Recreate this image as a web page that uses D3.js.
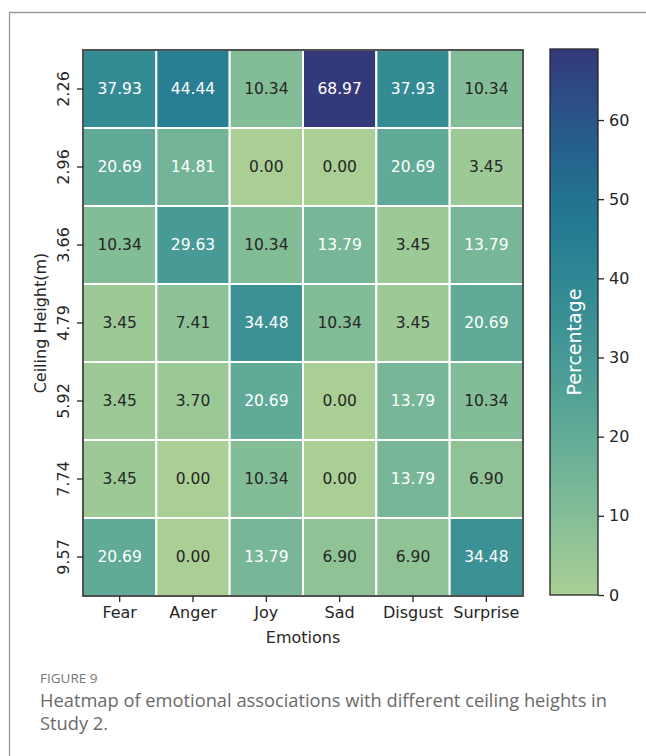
<!DOCTYPE html>
<html>
<head>
<meta charset="utf-8">
<script src="https://cdn.jsdelivr.net/npm/d3@7"></script>
<style>
  html, body { margin: 0; padding: 0; background: #fff; }
  svg { display: block; }
</style>
</head>
<body>
<svg id="chart" width="646" height="756"></svg>
<script>
// Emotion categories (columns) and ceiling heights (rows)
const emotions = ["Fear", "Anger", "Joy", "Sad", "Disgust", "Surprise"];
const heights = ["2.26", "2.96", "3.66", "4.79", "5.92", "7.74", "9.57"];

// Percentage of participants per ceiling height, one array per row
const row226 = [37.93, 44.44, 10.34, 68.97, 37.93, 10.34];
const row296 = [20.69, 14.81, 0.00, 0.00, 20.69, 3.45];
const row366 = [10.34, 29.63, 10.34, 13.79, 3.45, 13.79];
const row479 = [3.45, 7.41, 34.48, 10.34, 3.45, 20.69];
const row592 = [3.45, 3.70, 20.69, 0.00, 13.79, 10.34];
const row774 = [3.45, 0.00, 10.34, 0.00, 13.79, 6.90];
const row957 = [20.69, 0.00, 13.79, 6.90, 6.90, 34.48];
const values = [row226, row296, row366, row479, row592, row774, row957];

const colorbarTicks = [0, 10, 20, 30, 40, 50, 60];

const svg = d3.select("#chart");
const FONT = "DejaVu Sans, sans-serif";

// Outer figure frame (top and left edges visible)
svg.append("path")
  .attr("d", "M9.5,756 L9.5,12.5 L646,12.5")
  .attr("fill", "none").attr("stroke", "#9a9a9a").attr("stroke-width", 1.3);

// Crest-like sequential palette
const crestStops = ["#a9cf95", "#84be97", "#62ab97", "#479a96", "#318894", "#1f7592", "#28598a", "#34397a"];
const crest = d3.interpolateRgbBasis(crestStops);

const vmin = 0;
const vmax = d3.max(values.flat());
const color = d3.scaleSequential(crest).domain([vmin, vmax]);

// Layout of the heatmap
const hm = { left: 83, top: 50, right: 523, bottom: 596 };
const x = d3.scaleBand().domain(emotions).range([hm.left, hm.right]);
const y = d3.scaleBand().domain(heights).range([hm.top, hm.bottom]);

// Cells
const cells = [];
heights.forEach((h, i) => emotions.forEach((e, j) => cells.push({ h, e, v: values[i][j] })));

function luminance(c) {
  const rgb = d3.rgb(c);
  const lin = v => { v /= 255; return v <= 0.03928 ? v / 12.92 : Math.pow((v + 0.055) / 1.055, 2.4); };
  return 0.2126 * lin(rgb.r) + 0.7152 * lin(rgb.g) + 0.0722 * lin(rgb.b);
}

const g = svg.append("g");
g.selectAll("rect.cell").data(cells).join("rect")
  .attr("class", "cell")
  .attr("x", d => x(d.e))
  .attr("y", d => y(d.h))
  .attr("width", x.bandwidth())
  .attr("height", y.bandwidth())
  .attr("fill", d => color(d.v))
  .attr("stroke", "#ffffff")
  .attr("stroke-width", 2);

g.selectAll("text.ann").data(cells).join("text")
  .attr("class", "ann")
  .attr("x", d => x(d.e) + x.bandwidth() / 2)
  .attr("y", d => y(d.h) + y.bandwidth() / 2)
  .attr("text-anchor", "middle")
  .attr("dominant-baseline", "central")
  .attr("font-family", FONT)
  .attr("font-size", "15.5px")
  .attr("fill", d => luminance(color(d.v)) < 0.408 ? "#ffffff" : "#262626")
  .text(d => d.v.toFixed(2));

// Heatmap border
svg.append("rect")
  .attr("x", hm.left).attr("y", hm.top)
  .attr("width", hm.right - hm.left).attr("height", hm.bottom - hm.top)
  .attr("fill", "none").attr("stroke", "#262626").attr("stroke-width", 1.6);

// X axis
const xAxis = svg.append("g")
  .attr("transform", `translate(0,${hm.bottom})`)
  .call(d3.axisBottom(x).tickSize(6).tickPadding(5));
xAxis.select(".domain").remove();
xAxis.selectAll("line").attr("stroke", "#262626").attr("stroke-width", 1.3);
xAxis.selectAll("text").attr("font-family", FONT).attr("font-size", "16px").attr("fill", "#262626");

// Y axis with rotated tick labels
const yAxis = svg.append("g")
  .attr("transform", `translate(${hm.left},0)`)
  .call(d3.axisLeft(y).tickSize(6).tickPadding(5));
yAxis.select(".domain").remove();
yAxis.selectAll("line").attr("stroke", "#262626").attr("stroke-width", 1.3);
yAxis.selectAll("text")
  .attr("font-family", FONT).attr("font-size", "16px").attr("fill", "#262626")
  .attr("x", null).attr("dy", null)
  .attr("text-anchor", "middle")
  .attr("dominant-baseline", "central")
  .attr("transform", "translate(-20,0) rotate(-90)");

// Axis titles
svg.append("text")
  .attr("x", (hm.left + hm.right) / 2).attr("y", 643)
  .attr("text-anchor", "middle")
  .attr("font-family", FONT).attr("font-size", "16px").attr("fill", "#262626")
  .text("Emotions");

svg.append("text")
  .attr("transform", `translate(46,${(hm.top + hm.bottom) / 2}) rotate(-90)`)
  .attr("text-anchor", "middle")
  .attr("font-family", FONT).attr("font-size", "16px").attr("fill", "#262626")
  .text("Ceiling Height(m)");

// Colorbar
const cb = { left: 550, right: 598, top: 49, bottom: 595 };
const cbScale = d3.scaleLinear().domain([vmin, vmax]).range([cb.bottom, cb.top]);

const defs = svg.append("defs");
const grad = defs.append("linearGradient")
  .attr("id", "cbgrad").attr("x1", 0).attr("y1", 1).attr("x2", 0).attr("y2", 0);
d3.range(0, 1.0001, 0.02).forEach(t => {
  grad.append("stop").attr("offset", t).attr("stop-color", crest(t));
});

svg.append("rect")
  .attr("x", cb.left).attr("y", cb.top)
  .attr("width", cb.right - cb.left).attr("height", cb.bottom - cb.top)
  .attr("fill", "url(#cbgrad)")
  .attr("stroke", "#262626").attr("stroke-width", 1.3);

const cbAxis = svg.append("g")
  .attr("transform", `translate(${cb.right},0)`)
  .call(d3.axisRight(cbScale).tickValues(colorbarTicks).tickSize(6).tickPadding(5).tickFormat(d3.format("d")));
cbAxis.select(".domain").remove();
cbAxis.selectAll("line").attr("stroke", "#262626").attr("stroke-width", 1.3);
cbAxis.selectAll("text").attr("font-family", FONT).attr("font-size", "16px").attr("fill", "#262626");

svg.append("text")
  .attr("transform", `translate(${(cb.left + cb.right) / 2},342) rotate(-90)`)
  .attr("text-anchor", "middle")
  .attr("dominant-baseline", "central")
  .attr("font-family", FONT).attr("font-size", "19px").attr("fill", "#ffffff")
  .text("Percentage");

// Figure caption
svg.append("text")
  .attr("x", 40).attr("y", 683)
  .attr("font-family", "Open Sans, sans-serif").attr("font-size", "13.5px").attr("fill", "#777777")
  .text("FIGURE 9");

const caption = svg.append("text")
  .attr("font-family", "Open Sans, sans-serif").attr("font-size", "18.3px").attr("fill", "#6a6a6a")
  .attr("font-weight", 400);
caption.append("tspan").attr("x", 40).attr("y", 707)
  .text("Heatmap of emotional associations with different ceiling heights in");
caption.append("tspan").attr("x", 40).attr("y", 730)
  .text("Study 2.");
</script>
</body>
</html>
